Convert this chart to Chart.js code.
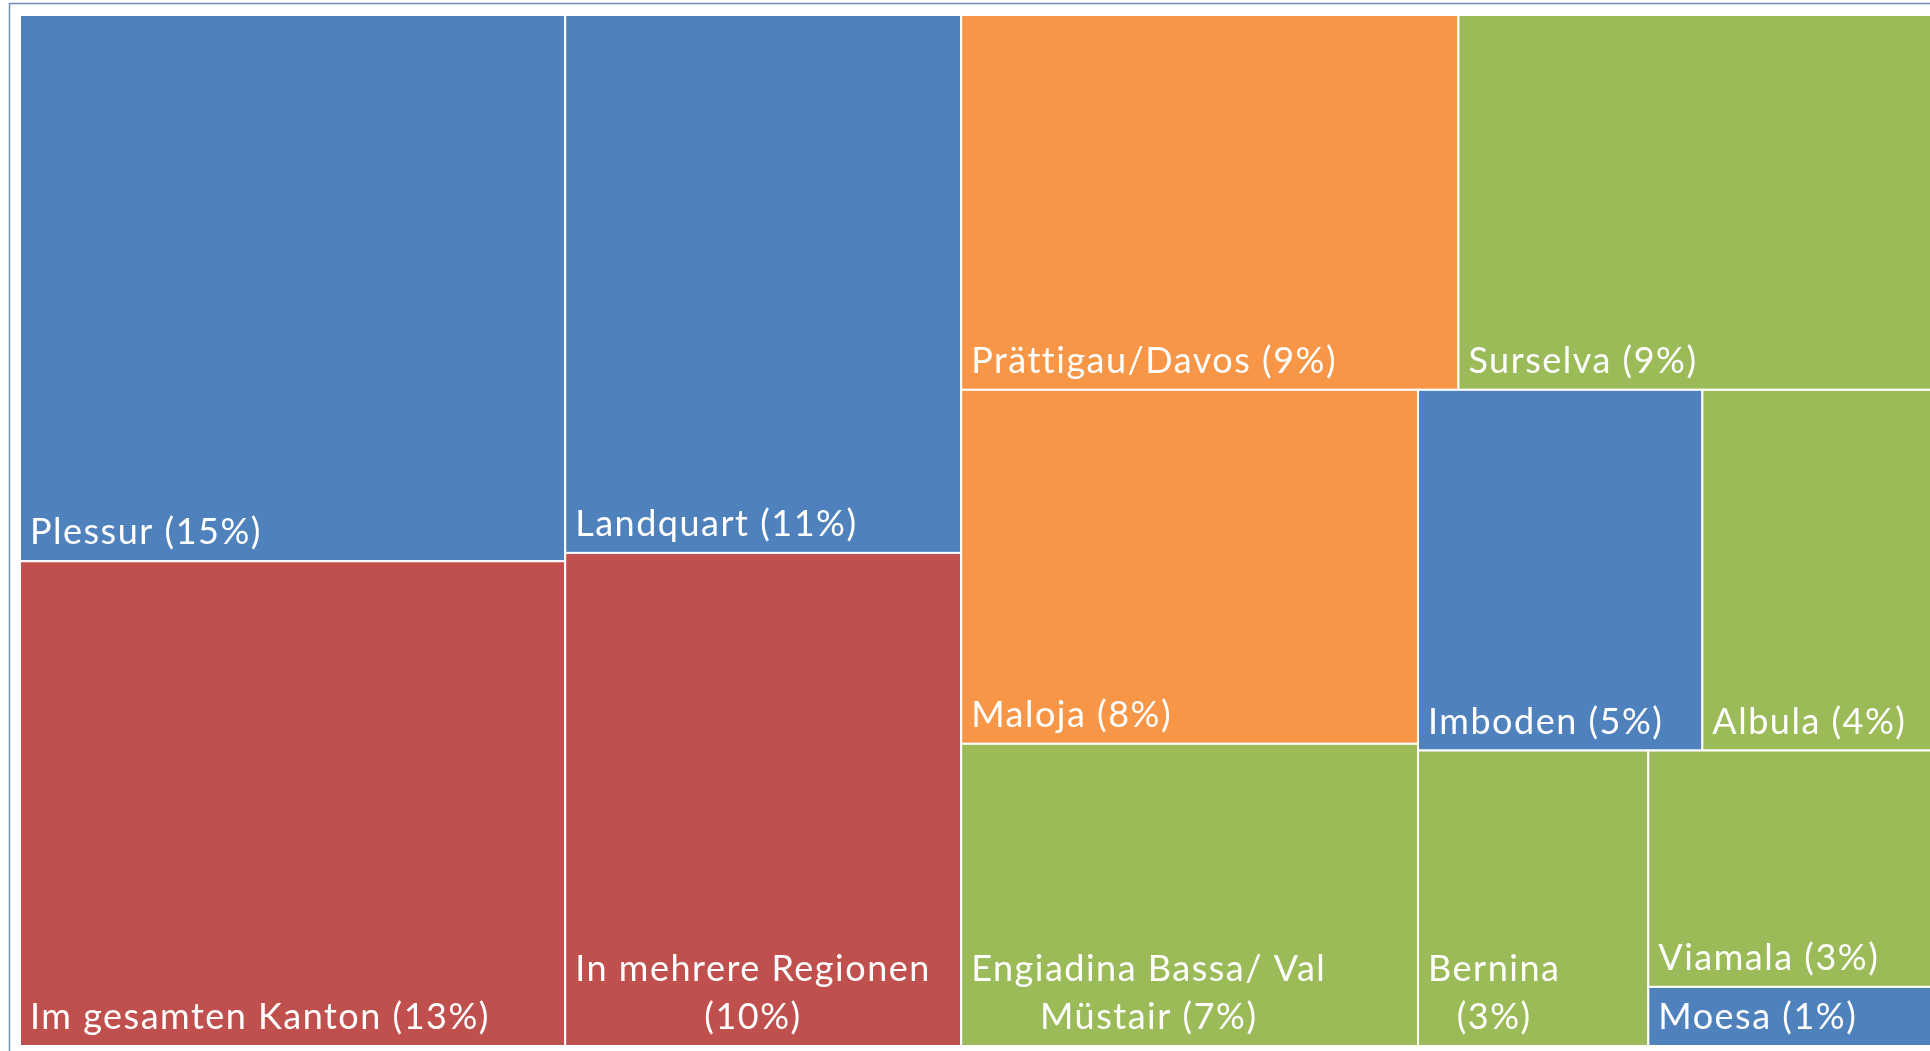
<!DOCTYPE html>
<html>
<head>
<meta charset="utf-8">
<script src="https://cdn.jsdelivr.net/npm/chart.js@4.4.1/dist/chart.umd.min.js"></script>
<style>
  html, body { margin: 0; padding: 0; background: #ffffff; overflow: hidden; }
  #wrap { position: relative; width: 1945px; height: 1051px; }
</style>
</head>
<body>
<div id="wrap"><canvas id="treemap"></canvas></div>
<script>
// Regionen und Anteile (geschaetzt aus der Flaeche)
const regionen = ['Plessur', 'Im gesamten Kanton', 'Landquart', 'In mehrere Regionen',
    'Prättigau/Davos', 'Surselva', 'Maloja', 'Engiadina Bassa/ Val Müstair',
    'Imboden', 'Albula', 'Bernina', 'Viamala', 'Moesa'];
const anteile = [15.1, 13.4, 10.8, 9.9, 9.45, 9.0, 8.2, 7.0, 5.2, 4.2, 3.45, 3.4, 0.85];
const farben = ['#4F81BD', '#C0504D', '#4F81BD', '#C0504D', '#F79646', '#9BBB59',
    '#F79646', '#9BBB59', '#4F81BD', '#9BBB59', '#9BBB59', '#9BBB59', '#4F81BD'];

const total = anteile.reduce((a, b) => a + b, 0);

// squarified layout, in Pixeln des Chart-Bereichs
function worst(row, side) {
    const s = row.reduce((a, b) => a + b.area, 0);
    let max = 0;
    row.forEach(r => {
        const len = s / side;
        const other = r.area / len;
        max = Math.max(max, len / other, other / len);
    });
    return max;
}

function squarify(items, x, y, w, h, out) {
    if (!items.length) return;
    const side = Math.min(w, h);
    let row = [items[0]];
    let i = 1;
    while (i < items.length) {
        const next = row.concat([items[i]]);
        if (worst(next, side) <= worst(row, side)) {
            row = next;
            i++;
        } else {
            break;
        }
    }
    const s = row.reduce((a, b) => a + b.area, 0);
    if (w >= h) {
        // Spalte links
        const cw = s / h;
        let cy = y;
        row.forEach(r => {
            const rh = r.area / cw;
            out.push({ idx: r.idx, x: x, y: cy, w: cw, h: rh });
            cy += rh;
        });
        squarify(items.slice(i), x + cw, y, w - cw, h, out);
    } else {
        // Zeile oben
        const rh = s / w;
        let cx = x;
        row.forEach(r => {
            const rw = r.area / rh;
            out.push({ idx: r.idx, x: cx, y: y, w: rw, h: rh });
            cx += rw;
        });
        squarify(items.slice(i), x, y + rh, w, h - rh, out);
    }
}

function wrapText(ctx, text, maxWidth) {
    const words = text.split(' ');
    const lines = [];
    let line = '';
    words.forEach(word => {
        const test = line ? line + ' ' + word : word;
        if (ctx.measureText(test).width > maxWidth && line) {
            lines.push(line);
            line = word;
        } else {
            line = test;
        }
    });
    if (line) lines.push(line);
    return lines;
}

const treemapPlugin = {
    id: 'treemapPlugin',
    beforeDraw(chart) {
        const ctx = chart.ctx;
        ctx.save();
        ctx.strokeStyle = '#6F8FB8';
        ctx.lineWidth = 1.5;
        ctx.strokeRect(9.5, 3.5, chart.width + 20, chart.height + 20);
        ctx.restore();
    },
    afterDatasetsDraw(chart) {
        const ctx = chart.ctx;
        const xs = chart.scales.x;
        const ys = chart.scales.y;
        const left = xs.getPixelForValue(0);
        const right = xs.getPixelForValue(100);
        const top = ys.getPixelForValue(100);
        const bottom = ys.getPixelForValue(0);
        const w = right - left;
        const h = bottom - top;

        const items = anteile.map((v, idx) => ({ idx: idx, area: v / total * w * h }));
        const cells = [];
        squarify(items, left, top, w, h, cells);

        ctx.save();
        cells.forEach(c => {
            ctx.fillStyle = farben[c.idx];
            ctx.fillRect(c.x, c.y, c.w, c.h);
            ctx.strokeStyle = '#ffffff';
            ctx.lineWidth = 2;
            ctx.strokeRect(c.x, c.y, c.w, c.h);
        });

        ctx.font = '36px Lato';
        ctx.letterSpacing = '1.5px';
        ctx.fillStyle = '#ffffff';
        ctx.textBaseline = 'alphabetic';
        ctx.textAlign = 'center';
        cells.forEach(c => {
            const pct = Math.round(anteile[c.idx] / total * 100);
            const label = regionen[c.idx] + ' (' + pct + '%)';
            const lines = wrapText(ctx, label, c.w - 20);
            const blockW = Math.max(...lines.map(l => ctx.measureText(l).width));
            const cx = c.x + 10 + blockW / 2;
            let by = c.y + c.h - 17 - (lines.length - 1) * 48;
            lines.forEach(l => {
                ctx.fillText(l, cx, by);
                by += 48;
            });
        });
        ctx.restore();
    }
};

new Chart(document.getElementById('treemap').getContext('2d'), {
    type: 'scatter',
    data: {
        datasets: [{
            label: 'Anteile',
            data: [],
            pointRadius: 0
        }]
    },
    options: {
        responsive: true,
        maintainAspectRatio: false,
        animation: false,
        layout: {
            padding: { left: 20, top: 15, right: 13, bottom: 5 }
        },
        scales: {
            x: { type: 'linear', min: 0, max: 100, display: false },
            y: { type: 'linear', min: 0, max: 100, display: false }
        },
        plugins: {
            legend: { display: false },
            tooltip: { enabled: false }
        }
    },
    plugins: [treemapPlugin]
});
</script>
</body>
</html>
